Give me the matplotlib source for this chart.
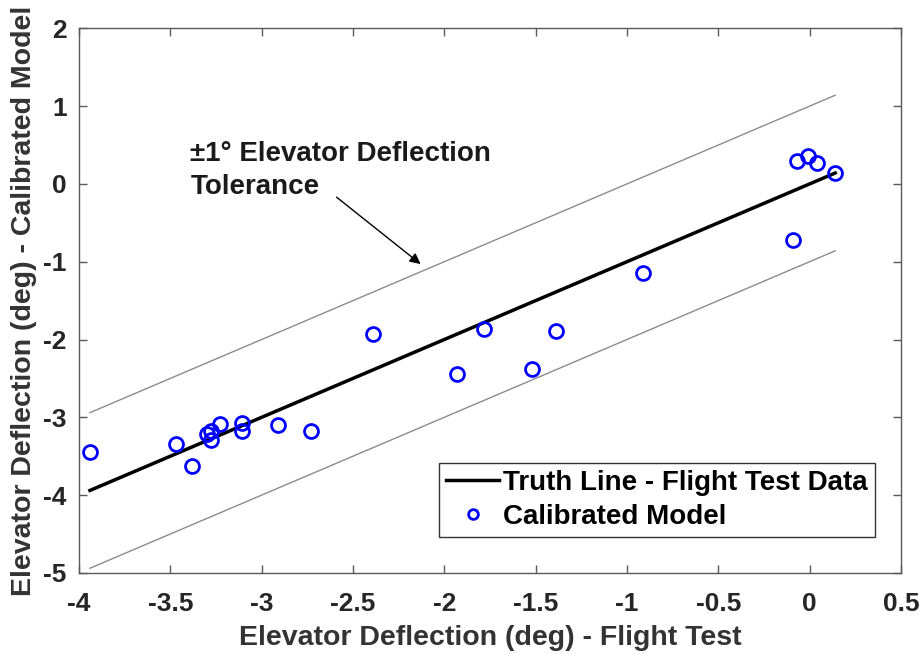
import numpy as np
import matplotlib
matplotlib.use('Agg')
import matplotlib.pyplot as plt

plt.rcParams['font.family'] = ['Liberation Sans', 'DejaVu Sans']
plt.rcParams['font.weight'] = 'bold'

# Flight test vs calibrated model elevator deflection (deg)
flight_test = [-3.94, -3.47, -3.38, -3.30, -3.28, -3.28, -3.23, -3.11, -3.11,
               -2.91, -2.73, -2.39, -1.93, -1.78, -1.52, -1.39, -0.91,
               -0.09, -0.07, -0.01, 0.04, 0.14]
calibrated = [-3.44, -3.34, -3.62, -3.22, -3.18, -3.29, -3.08, -3.07, -3.18,
              -3.10, -3.18, -1.93, -2.44, -1.86, -2.38, -1.89, -1.14,
              -0.72, 0.30, 0.36, 0.27, 0.14]
tolerance = 1.0

xs = np.array([min(flight_test), max(flight_test)])

fig = plt.figure(figsize=(9.23, 6.54), dpi=100)
ax = fig.add_axes([0.0856, 0.124, 0.8905, 0.8327])

ax.plot(xs, xs + tolerance, color='#8c8c8c', lw=1.0)
ax.plot(xs, xs - tolerance, color='#8c8c8c', lw=1.0)
ax.plot(xs, xs, color='black', lw=2.5, label='Truth Line - Flight Test Data')
ax.plot(flight_test, calibrated, 'o', mfc='none', mec='blue', mew=2.0, ms=10,
        label='Calibrated Model')

# tolerance callout
ax.text(-3.39, 0.55, '±1° Elevator Deflection\nTolerance', ha='left', va='top',
        fontsize=20, fontweight='bold', color='#1a1a1a', linespacing=1.35)
ax.annotate('', xy=(-2.13, -1.03), xytext=(-2.59, -0.17),
            arrowprops=dict(arrowstyle='-|>', color='black', lw=1.0,
                            shrinkA=0, shrinkB=0, mutation_scale=16))

ax.set_xlim(-4, 0.5)
ax.set_ylim(-5, 2)
ax.set_xticks(np.arange(-4, 0.51, 0.5))
ax.set_xticklabels(['-4', '-3.5', '-3', '-2.5', '-2', '-1.5', '-1', '-0.5', '0', '0.5'])
ax.set_yticks(np.arange(-5, 2.1, 1))
ax.set_yticklabels(['-5', '-4', '-3', '-2', '-1', '0', '1', '2'])
ax.tick_params(direction='in', top=True, right=True, length=6, width=1,
               color='#5a5a5a', labelsize=19, labelcolor='#262626')
ax.tick_params(axis='x', pad=14)
ax.tick_params(axis='y', pad=9)
for s in ax.spines.values():
    s.set_color('#5a5a5a')
    s.set_linewidth(1.0)

ax.set_xlabel('Elevator Deflection (deg) - Flight Test', fontsize=20.5,
              fontweight='bold', color='#333333', labelpad=6)
ax.set_ylabel('Elevator Deflection (deg) - Calibrated Model', fontsize=20.5,
              fontweight='bold', color='#333333', labelpad=4)

leg = ax.legend(loc='lower right', bbox_to_anchor=(0.968, 0.066), fontsize=20,
                frameon=True, fancybox=False, edgecolor='black', borderaxespad=0,
                handlelength=1.9, handletextpad=0.15, borderpad=0.25,
                labelspacing=0.3, markerscale=0.7)
leg.get_frame().set_linewidth(1.0)

fig.savefig('out.png', dpi=100)
